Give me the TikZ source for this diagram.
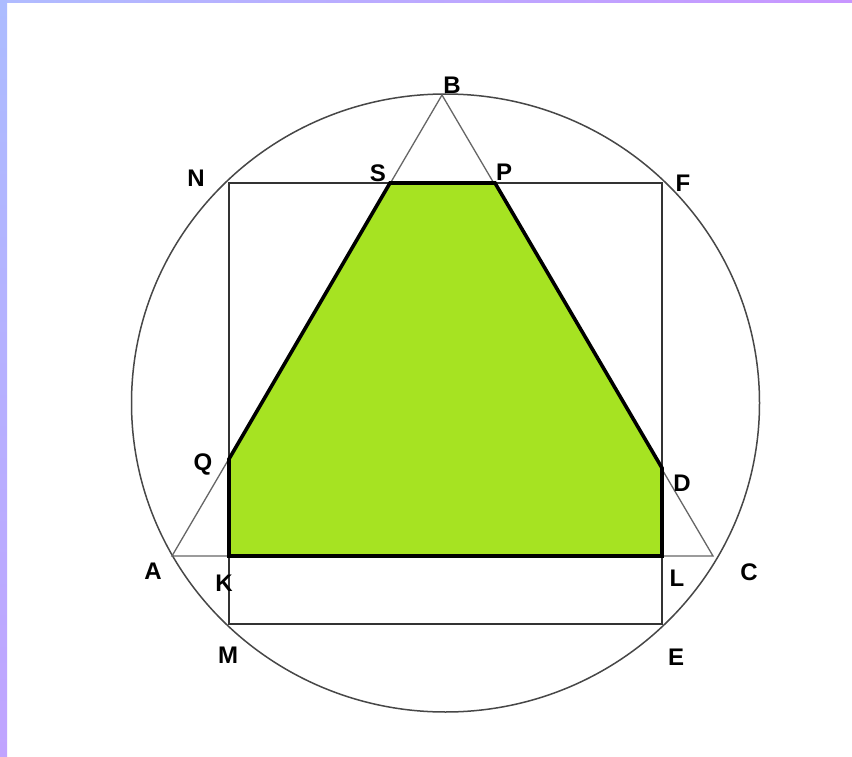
\documentclass[tikz,border=0pt]{standalone}
\usepackage{fontspec}
\setmainfont{Liberation Sans}
\begin{document}
\begin{tikzpicture}[x=1pt,y=-1pt,
  thinline/.style={line width=1.3pt,draw=black!80},
  circ/.style={line width=1.5pt,draw=black!72},
  lbl/.style={font=\bfseries\fontsize{24}{24}\selectfont,inner sep=0pt}]
\useasboundingbox (0,0) rectangle (852,757);
\fill[white] (0,0) rectangle (852,757);
\shade[left color={rgb,255:red,176;green,188;blue,255},right color={rgb,255:red,200;green,150;blue,255}] (0,0) rectangle (852,3);
\shade[top color={rgb,255:red,172;green,188;blue,255},bottom color={rgb,255:red,192;green,164;blue,255}] (0,0) rectangle (7,757);
% points
\coordinate (O) at (445.5,403);
\coordinate (A) at (172,556);
\coordinate (B) at (442,95);
\coordinate (C) at (713,556);
\coordinate (N) at (229,183);
\coordinate (F) at (662,183);
\coordinate (M) at (229,624);
\coordinate (E) at (662,624);
\coordinate (S) at (390,183);
\coordinate (P) at (495,183);
\coordinate (D) at (662,468);
\coordinate (L) at (662,556);
\coordinate (K) at (229,556);
\coordinate (Q) at (229,459);
% circle
\draw[circ] (O) ellipse [x radius=314, y radius=309];
% rectangle
\draw[thinline] (N) -- (F) -- (E) -- (M) -- cycle;
% triangle
\draw[thinline,draw=black!60] (A) -- (B) -- (C) -- cycle;
% green polygon
\filldraw[line width=3.6pt,draw=black,fill={rgb,255:red,166;green,227;blue,34},line join=miter] (S) -- (P) -- (D) -- (L) -- (K) -- (Q) -- cycle;
% labels
\node[lbl] at (452,85) {B};
\node[lbl] at (196,178) {N};
\node[lbl] at (378,173) {S};
\node[lbl] at (504,172) {P};
\node[lbl] at (683,183) {F};
\node[lbl] at (203,464) {Q};
\node[lbl] at (682,483) {D};
\node[lbl] at (153,571) {A};
\node[lbl] at (224,583) {K};
\node[lbl] at (749,572) {C};
\node[lbl] at (677,578) {L};
\node[lbl] at (228,655) {M};
\node[lbl] at (676,657) {E};
\end{tikzpicture}
\end{document}
